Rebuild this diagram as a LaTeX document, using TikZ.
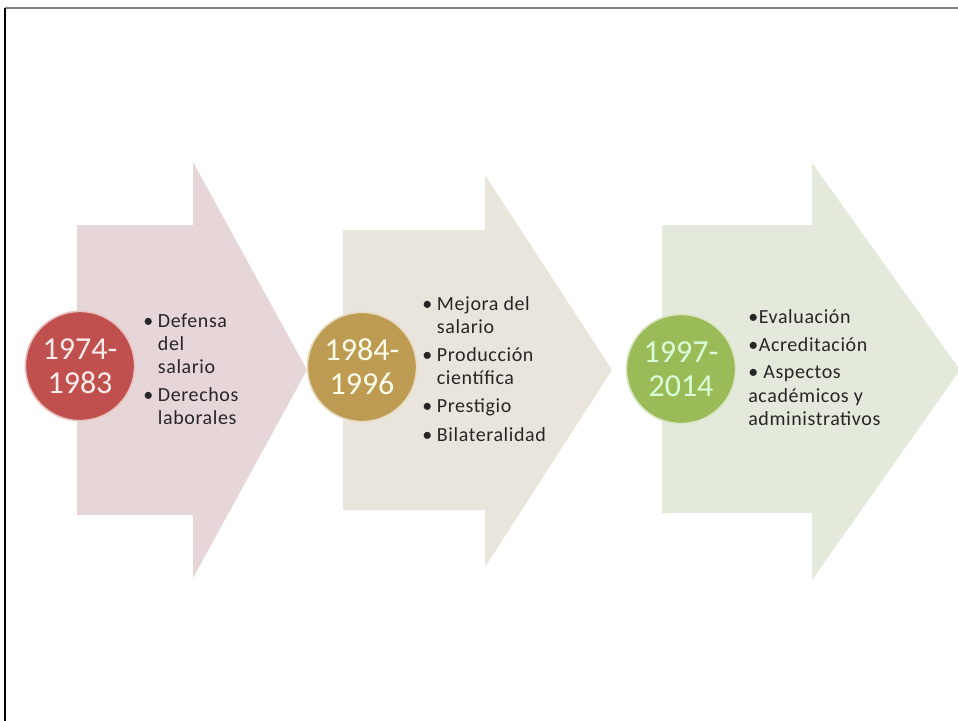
\documentclass[tikz,border=0pt]{standalone}
\usepackage{fontspec}
\setmainfont{Carlito}
\newfontfamily\notesfont[LetterSpace=3]{Carlito}
\definecolor{pinkarrow}{RGB}{231,214,215}
\definecolor{sandarrow}{RGB}{233,229,220}
\definecolor{sagearrow}{RGB}{227,233,219}
\definecolor{redyear}{RGB}{192,80,77}
\definecolor{goldyear}{RGB}{190,155,82}
\definecolor{greenyear}{RGB}{155,187,89}

\begin{document}
\begin{tikzpicture}[x=0.75pt,y=-0.75pt,
    year/.style={circle,minimum size=82pt,inner sep=0pt,line width=1.2pt,
      align=center,font=\fontsize{24}{25.5}\selectfont},
    notes/.style={anchor=base west,inner sep=0pt,text=black!85,
      font=\notesfont\fontsize{15}{17.25}\selectfont}]
    \useasboundingbox (0,0) rectangle (958,721);
    % frame
    \draw[gray,line width=1.5pt] (5,7.5) -- (958,7.5);
    \draw[black,line width=0.8pt] (5,7.5) -- (5,721);
    % arrows
    \fill[pinkarrow] (77,225) -- (193,225) -- (193,162) -- (307,370) -- (193,578) -- (193,515) -- (77,515) -- cycle;
    \fill[sandarrow] (343,230) -- (485,230) -- (485,175) -- (612,370) -- (485,567) -- (485,510) -- (343,510) -- cycle;
    \fill[sagearrow] (662,225) -- (812,225) -- (812,163) -- (960,370) -- (812,580) -- (812,513) -- (662,513) -- cycle;
    % years
    \node[year,fill=redyear,draw=redyear!35!white,text=white!92!red] (y1) at (80,366) {1974-\\1983};
    \node[year,fill=goldyear,draw=goldyear!35!white,text=white!92!yellow] (y2) at (362,367) {1984-\\1996};
    \node[year,fill=greenyear,draw=greenyear!35!white,text=white!85!green] (y3) at (681,369) {1997-\\2014};
    % notes
    \node[notes] (n1) at (143,327) {\begin{tabular}[t]{@{}p{11pt}@{}l@{}}
      \textbullet & Defensa\\ & del\\ & salario\\[4pt]
      \textbullet & Derechos\\ & laborales\end{tabular}};
    \node[notes] (n2) at (422,310) {\begin{tabular}[t]{@{}p{11pt}@{}l@{}}
      \textbullet & Mejora del\\ & salario\\[4pt]
      \textbullet & Producción\\ & científica\\[4pt]
      \textbullet & Prestigio\\[4pt]
      \textbullet & Bilateralidad\end{tabular}};
    \node[notes] (n3) at (748,323) {\begin{tabular}[t]{@{}l@{}}
      \textbullet Evaluación\\[4pt]
      \textbullet Acreditación\\[3pt]
      \textbullet\ Aspectos\\[1pt]
      académicos y\\
      administrativos\end{tabular}};
\end{tikzpicture}
\end{document}
